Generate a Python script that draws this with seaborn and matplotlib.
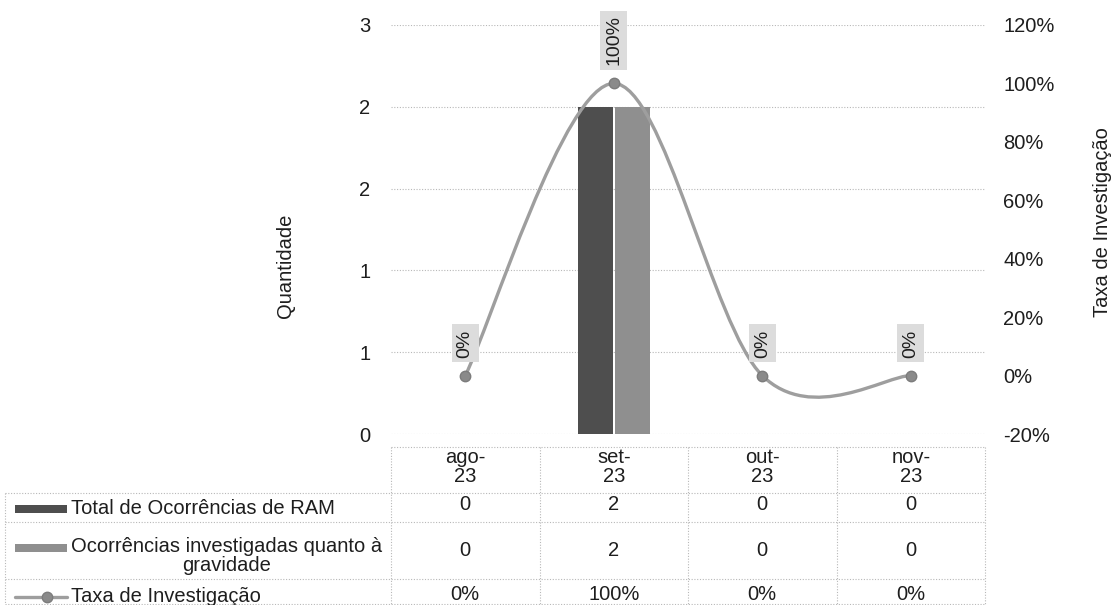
import numpy as np
import pandas as pd
import seaborn as sns
import matplotlib.pyplot as plt
from matplotlib.path import Path
from matplotlib.patches import PathPatch, Rectangle
from matplotlib.lines import Line2D
from matplotlib.ticker import FuncFormatter, MultipleLocator

# dados do grafico
meses = ['ago-23', 'set-23', 'out-23', 'nov-23']
total_ram = [0, 2, 0, 0]
investigadas = [0, 2, 0, 0]
taxa = [0.0, 1.0, 0.0, 0.0]
nome_total = 'Total de Ocorrências de RAM'
nome_invest = 'Ocorrências investigadas quanto à\ngravidade'
nome_taxa = 'Taxa de Investigação'

cor_total = '#4e4e4e'
cor_invest = '#8f8f8f'
cor_taxa = '#9e9e9e'
cor_grade = '#b8b8b8'
cor_texto = '#1e1e1e'

sns.set_style('white')
plt.rcParams['font.family'] = ['Liberation Sans', 'DejaVu Sans']
plt.rcParams['font.size'] = 14.5
plt.rcParams['text.color'] = cor_texto

W, H = 1114, 605
fig = plt.figure(figsize=(W / 100, H / 100), dpi=100)
ax = fig.add_axes([391 / W, 1 - 434 / H, 594 / W, 409 / H])


def px(x, y):
    return x / W, 1 - y / H


# barras
df = pd.DataFrame({
    'mes': meses * 2,
    'valor': total_ram + investigadas,
    'serie': [nome_total] * len(meses) + [nome_invest] * len(meses),
})
sns.barplot(data=df, x='mes', y='valor', hue='serie', palette=[cor_total, cor_invest],
            saturation=1, width=0.5, gap=0.06, errorbar=None, legend=False,
            linewidth=0, ax=ax)
ax.set_xlim(-0.5, len(meses) - 0.5)
ax.set_ylim(0, 2.5)
ax.yaxis.set_major_locator(MultipleLocator(0.5))
ax.yaxis.set_major_formatter(FuncFormatter(lambda v, p: f'{int(v + 0.5)}'))
ax.set_xticks([])
ax.set_xlabel('')
ax.set_ylabel('')
ax.grid(axis='y', ls=(0, (1, 1.5)), color=cor_grade, lw=0.8)
ax.set_axisbelow(True)
ax.tick_params(axis='y', length=0, pad=15, labelcolor=cor_texto)
for s in ax.spines.values():
    s.set_visible(False)

# eixo secundario (taxa)
ax2 = ax.twinx()
ax2.set_ylim(-0.2, 1.2)
ax2.yaxis.set_major_locator(MultipleLocator(0.2))
ax2.yaxis.set_major_formatter(FuncFormatter(lambda v, p: f'{int(round(v * 100))}%'))
ax2.tick_params(axis='y', length=0, pad=13, labelcolor=cor_texto)
for s in ax2.spines.values():
    s.set_visible(False)

# linha suavizada (estilo excel)
pts = np.column_stack([np.arange(len(meses), dtype=float), np.array(taxa)])
verts = [pts[0]]
codes = [Path.MOVETO]
for i in range(len(pts) - 1):
    ant = pts[max(i - 1, 0)]
    prox = pts[min(i + 2, len(pts) - 1)]
    verts += [pts[i] + (pts[i + 1] - ant) / 6, pts[i + 1] - (prox - pts[i]) / 6, pts[i + 1]]
    codes += [Path.CURVE4] * 3
ax2.add_patch(PathPatch(Path(verts, codes), fill=False, ec=cor_taxa, lw=2.4, capstyle='round'))
ax2.plot(pts[:, 0], pts[:, 1], ls='none', marker='o', ms=7.5, mfc='#8a8a8a', mec='#7c7c7c')

for x, v in zip(pts[:, 0], taxa):
    ax2.annotate(f'{v:.0%}', (x, v), xytext=(0, 13), textcoords='offset points',
                 rotation=90, ha='center', va='bottom', fontsize=14,
                 bbox=dict(boxstyle='square,pad=0.25', fc='#dcdcdc', ec='none'))

# titulos dos eixos
fig.text(*px(285, 266), 'Quantidade', rotation=90, ha='center', va='center')
fig.text(*px(1103, 222), nome_taxa, rotation=90, ha='center', va='center')

# tabela de dados
pos = ax.get_position()
bordas = pos.x0 + pos.width * np.arange(len(meses) + 1) / len(meses)
centros = (bordas[:-1] + bordas[1:]) / 2
linhas_y = [447, 493, 522, 579, 604]
x_tab = 5 / W
estilo = dict(ls=(0, (1, 1.5)), color=cor_grade, lw=0.8, transform=fig.transFigure)

fig.add_artist(Line2D([bordas[0], bordas[-1]], [px(0, linhas_y[0])[1]] * 2, **estilo))
for y in linhas_y[1:]:
    fig.add_artist(Line2D([x_tab, bordas[-1]], [px(0, y)[1]] * 2, **estilo))
for b in bordas:
    fig.add_artist(Line2D([b, b], [px(0, linhas_y[0])[1], px(0, linhas_y[-1])[1]], **estilo))
fig.add_artist(Line2D([x_tab, x_tab], [px(0, linhas_y[1])[1], px(0, linhas_y[-1])[1]], **estilo))

linhas_tab = [
    [str(v) for v in total_ram],
    [str(v) for v in investigadas],
    [f'{v:.0%}' for v in taxa],
]
y_val = [505, 550, 595]
for c, m in zip(centros, meses):
    fig.text(c, px(0, 467)[1], m.replace('-', '-\n'), ha='center', va='center', linespacing=0.95)
for vals, yv in zip(linhas_tab, y_val):
    for c, t in zip(centros, vals):
        fig.text(c, px(0, yv)[1], t, ha='center', va='center')

# rotulos das series com chave de legenda
fig.text(*px(71, 508), nome_total, ha='left', va='center')
fig.text(*px(71, 556), nome_invest, ha='left', va='center', multialignment='center', linespacing=0.95)
fig.text(*px(71, 597), nome_taxa, ha='left', va='center')
fig.add_artist(Rectangle(px(15, 513), 52 / W, 8 / H, transform=fig.transFigure, fc=cor_total, ec='none'))
fig.add_artist(Rectangle(px(15, 552), 52 / W, 8 / H, transform=fig.transFigure, fc=cor_invest, ec='none'))
fig.add_artist(Line2D([15 / W, 67 / W], [px(0, 597)[1]] * 2, transform=fig.transFigure,
                      color=cor_taxa, lw=2.4))
fig.add_artist(Line2D([47 / W], [px(0, 597)[1]], transform=fig.transFigure, ls='none',
                      marker='o', ms=7.5, mfc='#8a8a8a', mec='#7c7c7c'))

fig.savefig('out.png', dpi=100, facecolor='white')
